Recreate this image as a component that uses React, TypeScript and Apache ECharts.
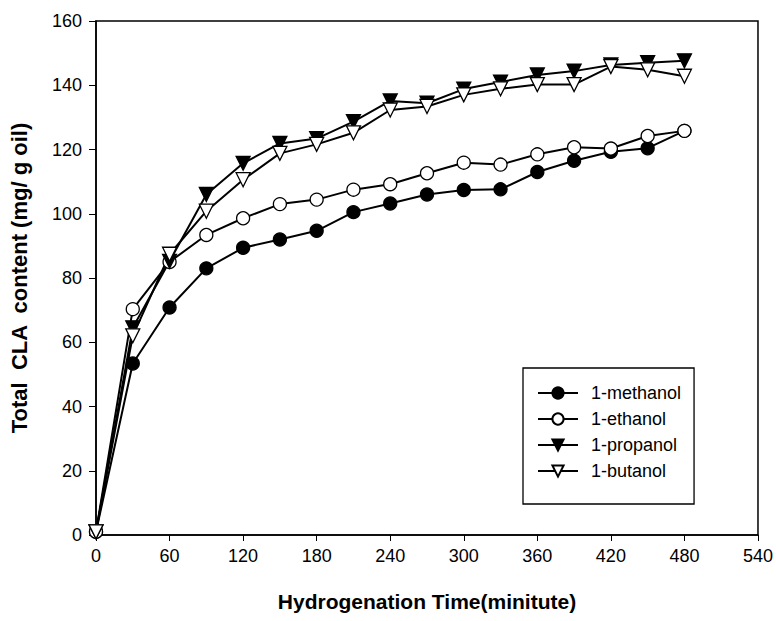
import React, { useEffect, useRef } from "react";
import * as echarts from "echarts";

const times = [0, 30, 60, 90, 120, 150, 180, 210, 240, 270, 300, 330, 360, 390, 420, 450, 480];
const methanol = [1, 53.4, 70.8, 83, 89.4, 92, 94.7, 100.5, 103.2, 106, 107.4, 107.6, 113, 116.5, 119.3, 120.4, 125.8];
const ethanol = [1, 70.3, 85, 93.4, 98.6, 103, 104.4, 107.5, 109.2, 112.6, 115.9, 115.3, 118.5, 120.7, 120.3, 124.2, 125.8];
const propanol = [1, 64.5, 85.2, 106, 115.7, 121.9, 123.4, 128.7, 135.1, 134.4, 138.8, 141, 143.2, 144.4, 146.3, 147, 147.6];
const butanol = [1, 62, 87.4, 100.8, 110.6, 118.8, 121.6, 125.2, 132.3, 133.4, 137, 138.9, 140.2, 140.2, 145.8, 144.8, 142.8];

const seriesNames = ["1-methanol", "1-ethanol", "1-propanol", "1-butanol"];
const xTicksMax = 540;
const yTicksMax = 160;

const FONT = "'Liberation Sans', Arial, sans-serif";

export default function App() {
  const ref = useRef<HTMLDivElement>(null);
  useEffect(() => {
    if (!ref.current) return;
    const chart = echarts.init(ref.current, undefined, { renderer: "svg" });
    const pair = (vals: number[]) => times.map((t, i) => [t, vals[i]]);
    const mk = (name: string, vals: number[], symbol: string, fill: string, rotate: number, size: number) => ({
      name,
      type: "line",
      data: pair(vals),
      symbol,
      symbolSize: size,
      symbolRotate: rotate,
      lineStyle: { color: "#000", width: 2 },
      itemStyle: { color: fill, borderColor: "#000", borderWidth: 1.3 },
      emphasis: { disabled: true },
    });
    chart.setOption({
      animation: false,
      backgroundColor: "#fff",
      grid: {
        left: 96,
        right: 18,
        top: 21,
        bottom: 86,
        show: true,
        borderColor: "#000",
        borderWidth: 1.5,
      },
      legend: {
        left: 523,
        top: 368,
        width: 170,
        orient: "vertical",
        borderColor: "#000",
        borderWidth: 1.3,
        padding: [16, 13, 24, 14],
        itemWidth: 40,
        itemHeight: 14,
        itemGap: 8,
        textStyle: { fontFamily: FONT, fontSize: 18, color: "#000", padding: [0, 0, 0, 8] },
        data: seriesNames,
      },
      xAxis: {
        type: "value",
        min: 0,
        max: xTicksMax,
        interval: 60,
        name: "Hydrogenation Time(minitute)",
        nameLocation: "middle",
        nameGap: 56,
        nameTextStyle: { fontFamily: FONT, fontSize: 21, fontWeight: "bold", color: "#000" },
        axisLine: { lineStyle: { color: "#000", width: 1.5 } },
        axisTick: { inside: false, length: 6, lineStyle: { color: "#000" } },
        axisLabel: { fontFamily: FONT, fontSize: 18, color: "#000", margin: 12 },
        splitLine: { show: false },
      },
      yAxis: {
        type: "value",
        min: 0,
        max: yTicksMax,
        interval: 20,
        name: "Total  CLA  content (mg/ g oil)",
        nameLocation: "middle",
        nameGap: 66,
        nameRotate: 90,
        nameTextStyle: { fontFamily: FONT, fontSize: 22, fontWeight: "bold", color: "#000" },
        axisLine: { show: true, lineStyle: { color: "#000", width: 1.5 } },
        axisTick: { show: true, inside: false, length: 7, lineStyle: { color: "#000" } },
        axisLabel: { fontFamily: FONT, fontSize: 18, color: "#000", margin: 14 },
        splitLine: { show: false },
      },
      series: [
        mk(seriesNames[0], methanol, "circle", "#000", 0, 13),
        mk(seriesNames[1], ethanol, "circle", "#fff", 0, 13),
        mk(seriesNames[2], propanol, "triangle", "#000", 180, 14),
        mk(seriesNames[3], butanol, "triangle", "#fff", 180, 14),
      ],
    });
    return () => chart.dispose();
  }, []);
  return <div ref={ref} style={{ position: "absolute", left: 0, top: 0, width: 776, height: 621 }} />;
}
